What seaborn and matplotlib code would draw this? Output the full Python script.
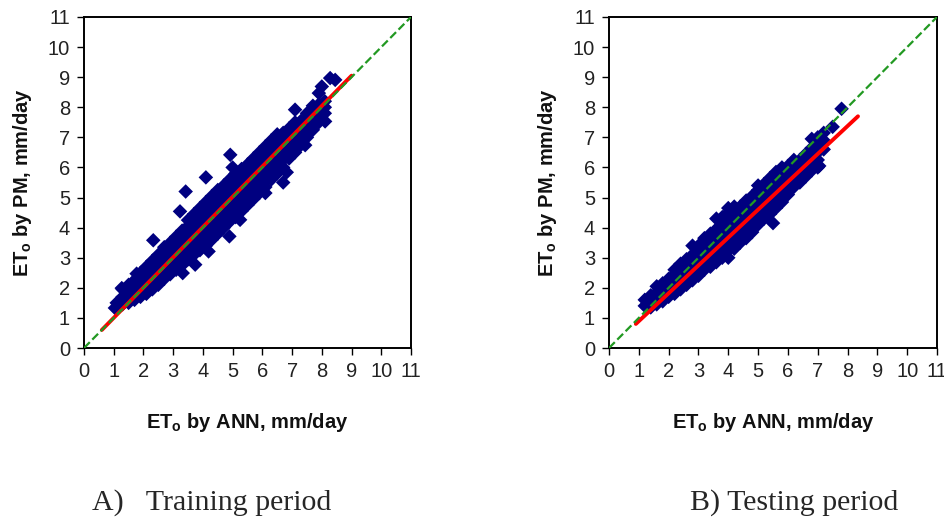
import matplotlib
matplotlib.use("Agg")
import matplotlib.pyplot as plt
import seaborn as sns
import pandas as pd

# ----------------------
# data (ET0 by ANN, ET0 by PM), mm/day
# ----------------------
train_ann = [
    1.1, 1.1,
    1.3, 1.3, 1.3,
    1.5, 1.5, 1.5, 1.5,
    1.7, 1.7, 1.7, 1.7,
    1.9, 1.9, 1.9, 1.9, 1.9,
    2.1, 2.1, 2.1, 2.1, 2.1,
    2.3, 2.3, 2.3, 2.3, 2.3,
    2.5, 2.5, 2.5, 2.5, 2.5, 2.5,
    2.7, 2.7, 2.7, 2.7, 2.7, 2.7,
    2.9, 2.9, 2.9, 2.9, 2.9, 2.9,
    3.1, 3.1, 3.1, 3.1, 3.1, 3.1,
    3.3, 3.3, 3.3, 3.3, 3.3, 3.3,
    3.5, 3.5, 3.5, 3.5, 3.5, 3.5, 3.5,
    3.7, 3.7, 3.7, 3.7, 3.7, 3.7, 3.7,
    3.9, 3.9, 3.9, 3.9, 3.9, 3.9, 3.9,
    4.1, 4.1, 4.1, 4.1, 4.1, 4.1, 4.1,
    4.3, 4.3, 4.3, 4.3, 4.3, 4.3, 4.3,
    4.5, 4.5, 4.5, 4.5, 4.5, 4.5, 4.5,
    4.7, 4.7, 4.7, 4.7, 4.7, 4.7, 4.7,
    4.9, 4.9, 4.9, 4.9, 4.9, 4.9, 4.9,
    5.1, 5.1, 5.1, 5.1, 5.1, 5.1, 5.1,
    5.3, 5.3, 5.3, 5.3, 5.3, 5.3, 5.3,
    5.5, 5.5, 5.5, 5.5, 5.5, 5.5, 5.5,
    5.7, 5.7, 5.7, 5.7, 5.7, 5.7, 5.7,
    5.9, 5.9, 5.9, 5.9, 5.9, 5.9, 5.9,
    6.1, 6.1, 6.1, 6.1, 6.1, 6.1, 6.1,
    6.3, 6.3, 6.3, 6.3, 6.3, 6.3, 6.3,
    6.5, 6.5, 6.5, 6.5, 6.5, 6.5, 6.5,
    6.7, 6.7, 6.7, 6.7, 6.7, 6.7,
    6.9, 6.9, 6.9, 6.9, 6.9, 6.9,
    7.1, 7.1, 7.1, 7.1, 7.1, 7.1,
    7.3, 7.3, 7.3, 7.3, 7.3,
    7.5, 7.5, 7.5, 7.5, 7.5,
    7.7, 7.7, 7.7, 7.7, 7.7,
    7.9, 7.9, 7.9, 7.9,
    8.1, 8.1, 8.1,
    # scattered points
    1.04, 1.27, 1.77, 2.33, 3.23, 3.42, 4.1, 4.92, 5.0, 3.74, 3.32, 4.19,
    4.89, 5.25, 6.1, 6.7, 6.82, 7.44, 7.05, 8.11, 7.94, 7.1, 8.28, 8.45,
    8.0, 7.9,
]
train_pm = [
    1.3, 1.5,
    1.45, 1.7, 1.95,
    1.5, 1.7, 1.9, 2.1,
    1.6, 1.8, 2.0, 2.25,
    1.7, 1.9, 2.1, 2.35, 2.5,
    1.8, 2.0, 2.2, 2.45, 2.7,
    1.95, 2.15, 2.35, 2.6, 2.9,
    2.1, 2.3, 2.5, 2.7, 2.95, 3.1,
    2.3, 2.5, 2.7, 2.9, 3.15, 3.35,
    2.45, 2.65, 2.85, 3.05, 3.3, 3.5,
    2.6, 2.8, 3.0, 3.2, 3.45, 3.7,
    2.75, 3.0, 3.2, 3.4, 3.65, 3.9,
    2.95, 3.15, 3.35, 3.55, 3.8, 4.05, 4.25,
    3.1, 3.3, 3.5, 3.75, 4.0, 4.25, 4.45,
    3.25, 3.45, 3.7, 3.9, 4.15, 4.4, 4.65,
    3.4, 3.6, 3.85, 4.1, 4.35, 4.6, 4.85,
    3.6, 3.8, 4.05, 4.3, 4.55, 4.8, 5.05,
    3.8, 4.0, 4.25, 4.5, 4.75, 5.0, 5.25,
    4.0, 4.2, 4.45, 4.7, 4.95, 5.2, 5.4,
    4.2, 4.4, 4.65, 4.9, 5.15, 5.4, 5.6,
    4.35, 4.6, 4.85, 5.1, 5.35, 5.6, 5.8,
    4.55, 4.8, 5.05, 5.3, 5.55, 5.8, 5.95,
    4.75, 5.0, 5.25, 5.5, 5.75, 5.95, 6.1,
    4.95, 5.2, 5.45, 5.7, 5.95, 6.15, 6.3,
    5.15, 5.4, 5.65, 5.9, 6.15, 6.35, 6.5,
    5.35, 5.6, 5.85, 6.1, 6.35, 6.55, 6.7,
    5.6, 5.85, 6.1, 6.3, 6.55, 6.75, 6.9,
    5.8, 6.05, 6.3, 6.5, 6.75, 6.95, 7.1,
    6.0, 6.25, 6.5, 6.7, 6.95, 7.15,
    6.3, 6.5, 6.7, 6.9, 7.15, 7.3,
    6.5, 6.7, 6.9, 7.1, 7.3, 7.5,
    6.75, 6.95, 7.15, 7.35, 7.55,
    7.0, 7.2, 7.4, 7.6, 7.8,
    7.25, 7.45, 7.65, 7.85, 8.05,
    7.5, 7.7, 7.9, 8.1,
    7.8, 8.0, 8.2,
    1.33, 1.99, 2.47, 3.58, 4.54, 5.2, 5.67, 6.42, 6.0, 2.77, 2.49, 3.21,
    3.71, 4.26, 5.15, 5.5, 5.84, 6.74, 6.92, 7.53, 7.7, 7.92, 8.97, 8.91,
    8.69, 8.47,
]

test_ann = [
    1.2, 1.2,
    1.4, 1.4, 1.4,
    1.6, 1.6, 1.6, 1.6,
    1.8, 1.8, 1.8, 1.8,
    2.0, 2.0, 2.0, 2.0,
    2.2, 2.2, 2.2, 2.2, 2.2,
    2.4, 2.4, 2.4, 2.4, 2.4,
    2.6, 2.6, 2.6, 2.6, 2.6,
    2.8, 2.8, 2.8, 2.8, 2.8, 2.8,
    3.0, 3.0, 3.0, 3.0, 3.0, 3.0,
    3.2, 3.2, 3.2, 3.2, 3.2, 3.2,
    3.4, 3.4, 3.4, 3.4, 3.4, 3.4,
    3.6, 3.6, 3.6, 3.6, 3.6, 3.6, 3.6,
    3.8, 3.8, 3.8, 3.8, 3.8, 3.8, 3.8,
    4.0, 4.0, 4.0, 4.0, 4.0, 4.0, 4.0, 4.0,
    4.2, 4.2, 4.2, 4.2, 4.2, 4.2, 4.2,
    4.4, 4.4, 4.4, 4.4, 4.4, 4.4,
    4.6, 4.6, 4.6, 4.6, 4.6, 4.6,
    4.8, 4.8, 4.8, 4.8, 4.8, 4.8,
    5.0, 5.0, 5.0, 5.0, 5.0, 5.0, 5.0,
    5.2, 5.2, 5.2, 5.2, 5.2, 5.2,
    5.4, 5.4, 5.4, 5.4, 5.4, 5.4,
    5.6, 5.6, 5.6, 5.6, 5.6, 5.6,
    5.8, 5.8, 5.8, 5.8, 5.8, 5.8,
    6.0, 6.0, 6.0, 6.0, 6.0,
    6.2, 6.2, 6.2, 6.2, 6.2,
    6.4, 6.4, 6.4, 6.4,
    6.6, 6.6, 6.6, 6.6,
    6.8, 6.8, 6.8, 6.8, 6.8,
    7.0, 7.0, 7.0, 7.0, 7.0,
    7.2, 7.2, 7.2,
    7.5, 7.8, 7.05, 5.5,
]
test_pm = [
    1.4, 1.6,
    1.35, 1.55, 1.75,
    1.45, 1.65, 1.85, 2.05,
    1.55, 1.75, 1.95, 2.15,
    1.7, 1.9, 2.1, 2.3,
    1.8, 2.0, 2.2, 2.45, 2.6,
    1.95, 2.15, 2.35, 2.55, 2.8,
    2.1, 2.3, 2.5, 2.7, 2.95,
    2.25, 2.45, 2.65, 2.85, 3.1, 3.4,
    2.4, 2.6, 2.8, 3.0, 3.2, 3.4,
    2.6, 2.8, 3.0, 3.2, 3.45, 3.65,
    2.7, 2.9, 3.1, 3.3, 3.55, 3.8,
    2.85, 3.05, 3.25, 3.45, 3.7, 3.95, 4.3,
    3.0, 3.2, 3.4, 3.6, 3.85, 4.1, 4.35,
    3.0, 3.25, 3.45, 3.7, 3.95, 4.2, 4.5, 4.65,
    3.3, 3.5, 3.75, 4.0, 4.25, 4.5, 4.7,
    3.5, 3.7, 3.95, 4.2, 4.45, 4.7,
    3.65, 3.9, 4.15, 4.4, 4.65, 4.9,
    3.85, 4.1, 4.35, 4.6, 4.85, 5.05,
    4.1, 4.3, 4.55, 4.8, 5.05, 5.25, 5.4,
    4.3, 4.5, 4.75, 5.0, 5.25, 5.45,
    4.45, 4.7, 4.95, 5.2, 5.45, 5.65,
    4.65, 4.9, 5.15, 5.4, 5.6, 5.85,
    4.85, 5.1, 5.35, 5.6, 5.8, 6.0,
    5.1, 5.35, 5.6, 5.85, 6.05,
    5.35, 5.6, 5.85, 6.05, 6.25,
    5.5, 5.75, 6.0, 6.25,
    5.7, 5.95, 6.2, 6.45,
    5.9, 6.15, 6.4, 6.65, 6.95,
    6.0, 6.25, 6.5, 6.75, 7.0,
    6.6, 6.9, 7.15,
    7.35, 7.95, 6.05, 4.15,
]

# regression line end points and the 1:1 line
train_fit_x = [0.6, 9.0]
train_fit_y = [0.6, 9.05]
test_fit_x = [0.9, 8.35]
test_fit_y = [0.8, 7.7]
one_to_one = [0, 11]

ticks = list(range(0, 12))
captions = ["A)   Training period", "B) Testing period"]

# ----------------------
# style
# ----------------------
sns.set_style("ticks")
plt.rcParams["font.family"] = ["Liberation Sans", "DejaVu Sans"]
plt.rcParams["mathtext.fontset"] = "custom"
plt.rcParams["mathtext.rm"] = "Liberation Sans"
plt.rcParams["mathtext.bf"] = "Liberation Sans:bold"

fig = plt.figure(figsize=(9.44, 5.18), dpi=100)
W, H = 944, 518
ax1 = fig.add_axes([84 / W, (H - 348) / H, 327 / W, 331 / H])
ax2 = fig.add_axes([609 / W, (H - 348) / H, 328 / W, 331 / H])

panels = [
    (ax1, train_ann, train_pm, train_fit_x, train_fit_y),
    (ax2, test_ann, test_pm, test_fit_x, test_fit_y),
]

for ax, xs, ys, fx, fy in panels:
    df = pd.DataFrame({"ANN": xs, "PM": ys})
    sns.scatterplot(data=df, x="ANN", y="PM", ax=ax, marker="D", s=55,
                    color="#000080", edgecolor="none", linewidth=0, zorder=2)
    sns.lineplot(x=fx, y=fy, ax=ax, color="#ff0000", linewidth=2.8, zorder=3)
    sns.lineplot(x=one_to_one, y=one_to_one, ax=ax, color="#229922",
                 linewidth=1.6, dashes=(3.5, 2.5), linestyle="--", zorder=4)

    ax.set_xlim(0, 11)
    ax.set_ylim(0, 11)
    ax.set_xticks(ticks)
    ax.set_yticks(ticks)
    ax.tick_params(direction="out", length=5, width=1, labelsize=14.5,
                   colors="black", labelcolor="#222222", pad=5)
    for sp in ax.spines.values():
        sp.set_color("black")
        sp.set_linewidth(1.4)
        sp.set_visible(True)
    ax.set_xlabel(r"$\mathbf{ET_o}$ by ANN, mm/day", fontsize=14.5,
                  fontweight="bold", labelpad=22, color="#111111")
    ax.set_ylabel(r"$\mathbf{ET_o}$ by PM, mm/day", fontsize=14.5,
                  fontweight="bold", labelpad=10, color="#111111")

fig.text(92 / W, 1 - 503 / H, captions[0], fontsize=21.5,
         family=["Liberation Serif", "DejaVu Serif"], ha="left", va="center")
fig.text(690 / W, 1 - 503 / H, captions[1], fontsize=21.5,
         family=["Liberation Serif", "DejaVu Serif"], ha="left", va="center")

fig.savefig("out.png", dpi=100)
